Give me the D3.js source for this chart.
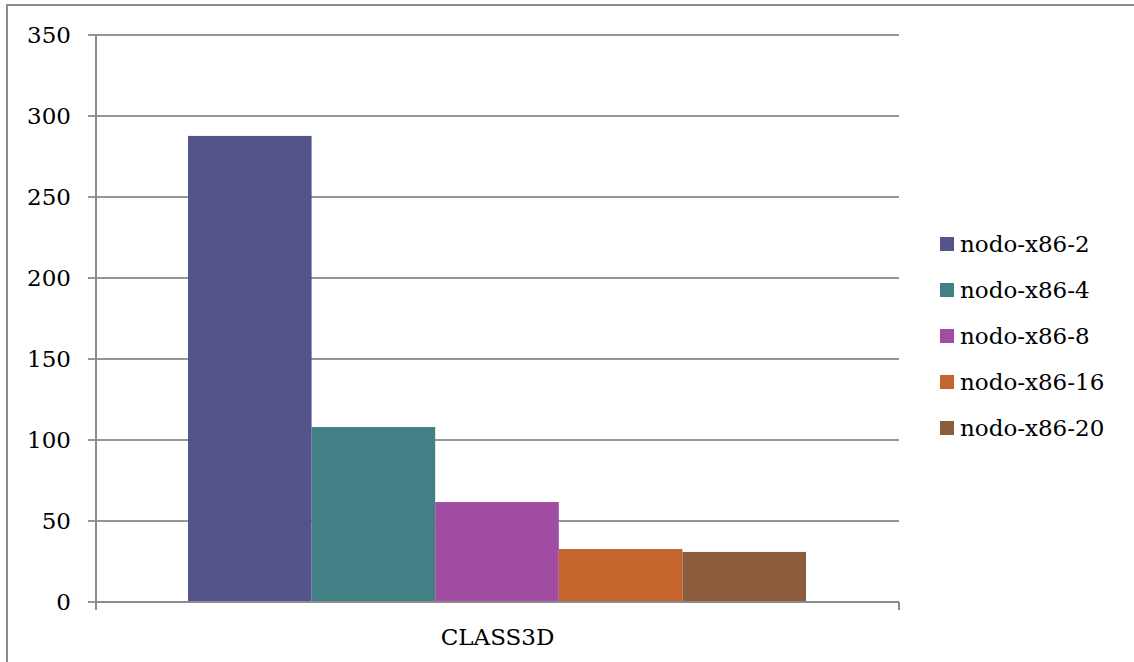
<!DOCTYPE html>
<html>
<head>
<meta charset="utf-8">
<script src="https://cdn.jsdelivr.net/npm/d3@7"></script>
<style>
  body { margin: 0; background: #fff; }
  svg text { font-family: Georgia, "DejaVu Serif", "Liberation Serif", serif; fill: #000; }
</style>
</head>
<body>
<svg id="chart" width="1134" height="662"></svg>
<script>
// chart data
var categories = ["CLASS3D"];
var seriesNames = ["nodo-x86-2", "nodo-x86-4", "nodo-x86-8", "nodo-x86-16", "nodo-x86-20"];
var seriesValues = [287.7, 108.0, 61.7, 32.7, 30.9];
var seriesColors = ["#53548a", "#438086", "#a04da3", "#c4652d", "#8b5d3d"];
var yTicks = [0, 50, 100, 150, 200, 250, 300, 350];

var svg = d3.select("#chart");
var margin = {left: 96, top: 35};
var width = 803;
var height = 567;

// outer frame (only top/left visible in the picture)
svg.append("path")
  .attr("d", "M7,662 L7,5 L1134,5")
  .attr("fill", "none")
  .attr("stroke", "#8c8c8c")
  .attr("stroke-width", 2);

var g = svg.append("g").attr("transform", "translate(" + margin.left + "," + margin.top + ")");

var x0 = d3.scaleBand().domain(categories).range([0, width]);
var x1 = d3.scaleBand().domain(seriesNames).range([92, 710]);
var y = d3.scaleLinear().domain([0, 350]).range([height, 0]);

// gridlines
g.selectAll(".grid").data(yTicks).enter().append("line")
  .attr("x1", -8).attr("x2", width)
  .attr("y1", function(d){ return Math.round(y(d)); })
  .attr("y2", function(d){ return Math.round(y(d)); })
  .attr("stroke", "#969696")
  .attr("stroke-width", 2);

// bars
g.selectAll(".bar").data(seriesValues).enter().append("rect")
  .attr("x", function(d, i){ return x1(seriesNames[i]); })
  .attr("width", x1.bandwidth())
  .attr("y", function(d){ return y(d); })
  .attr("height", function(d){ return height - y(d); })
  .attr("fill", function(d, i){ return seriesColors[i]; });

// axis lines
g.append("line").attr("x1", 0).attr("x2", 0).attr("y1", 0).attr("y2", height + 8)
  .attr("stroke", "#8c8c8c").attr("stroke-width", 2);
g.append("line").attr("x1", 0).attr("x2", width).attr("y1", height).attr("y2", height)
  .attr("stroke", "#8c8c8c").attr("stroke-width", 2);
g.append("line").attr("x1", width).attr("x2", width).attr("y1", height).attr("y2", height + 8)
  .attr("stroke", "#8c8c8c").attr("stroke-width", 2);

// y tick labels
g.selectAll(".ylab").data(yTicks).enter().append("text")
  .attr("x", -25)
  .attr("y", function(d){ return y(d); })
  .attr("dy", "0.35em")
  .attr("text-anchor", "end")
  .style("font-size", "23px")
  .text(function(d){ return d; });

// category label
g.selectAll(".xlab").data(categories).enter().append("text")
  .attr("x", function(d){ return x0(d) + x0.bandwidth() / 2; })
  .attr("y", height + 43)
  .attr("text-anchor", "middle")
  .style("font-size", "23px")
  .text(function(d){ return d; });

// legend
var legend = svg.append("g").attr("transform", "translate(940,244)");
var item = legend.selectAll(".item").data(seriesNames).enter().append("g")
  .attr("transform", function(d, i){ return "translate(0," + (i * 46) + ")"; });
item.append("rect")
  .attr("x", 0).attr("y", -7).attr("width", 14).attr("height", 14)
  .attr("fill", function(d, i){ return seriesColors[i]; });
item.append("text")
  .attr("x", 20).attr("y", 0).attr("dy", "0.35em")
  .style("font-size", "23px")
  .text(function(d){ return d; });
</script>
</body>
</html>
